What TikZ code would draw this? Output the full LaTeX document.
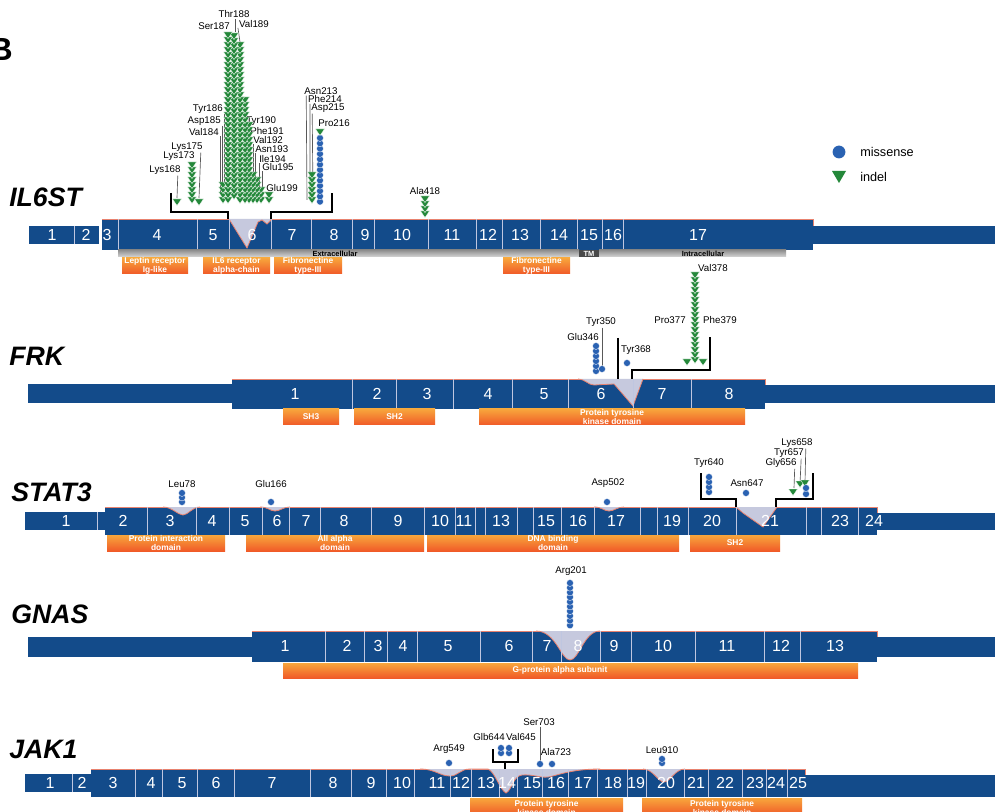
\documentclass[tikz,border=0pt]{standalone}
\usepackage{fontspec}
\setmainfont{Liberation Sans}
\usetikzlibrary{calc}
\definecolor{barblue}{HTML}{134B8A}
\definecolor{seplav}{HTML}{BFC6E0}
\definecolor{diplav}{HTML}{C6C9DE}
\definecolor{salmon}{HTML}{E8826F}
\definecolor{orTop}{HTML}{F8A63C}
\definecolor{orBot}{HTML}{F05A28}
\definecolor{mgreen}{HTML}{24883A}
\definecolor{mblue}{HTML}{2A62B2}
\definecolor{greyA}{HTML}{8E8E8E}
\definecolor{greyB}{HTML}{D6D6D6}
\definecolor{tmgrey}{HTML}{4A4A4A}
\tikzset{
 exnum/.style={text=white, font=\fontsize{12}{12}\selectfont, inner sep=0pt},
 mut/.style={font=\fontsize{7.3}{8}\selectfont, inner sep=0pt, text=black},
 gene/.style={font=\bfseries\itshape\fontsize{20}{20}\selectfont, inner sep=0pt, anchor=west},
 domtxt/.style={text=white, font=\bfseries\fontsize{6.3}{6.3}\selectfont, align=center, inner sep=0pt},
 exsep/.style={draw=seplav, line width=0.7pt},
 mline/.style={draw=black!65, line width=0.5pt},
 brk/.style={draw=black, line width=1.1pt},
 topline/.style={draw=salmon, line width=0.6pt},
 dipfill/.style={fill=diplav},
 dipline/.style={draw=salmon, line width=0.6pt},
}
\newcommand\mtri[2]{\filldraw[fill=mgreen, draw=white, line width=0.25pt] ({#1-4.5},{#2-3}) -- ({#1+4.5},{#2-3}) -- (#1,{#2+3.6}) -- cycle;}
\newcommand\mtricol[4]{\foreach \k in {#4,...,1}{\mtri{#1}{#2+(\k-1)*#3}}}
\newcommand\mdot[2]{\filldraw[fill=mblue, draw=white, line width=0.25pt] (#1,{#2}) circle (2.6pt);}
\newcommand\mdotcol[4]{\foreach \k in {#4,...,1}{\mdot{#1}{#2+(\k-1)*#3}}}
\newcommand\dombox[4]{\shade[top color=orTop, bottom color=orBot] (#1,#2) rectangle (#3,#4);}
\begin{document}
\begin{tikzpicture}[x=0.75pt,y=-0.75pt]
\useasboundingbox (0,0) rectangle (995,812);
\clip (0,0) rectangle (995,812);
\fill[white] (0,0) rectangle (995,812);

\node[font=\bfseries\fontsize{24}{24}\selectfont, anchor=east, inner sep=0pt] (lblB) at (13,49) {B};

% legend
\filldraw[fill=mblue, draw=none] (839,152) circle (4.8pt);
\node[anchor=west, font=\fontsize{9.5}{10}\selectfont, inner sep=0pt] (lgm) at (860,152) {missense};
\fill[mgreen] (832,171) -- (846,171) -- (839,183) -- cycle;
\node[anchor=west, font=\fontsize{9.5}{10}\selectfont, inner sep=0pt] (lgi) at (860,177) {indel};

%================ IL6ST
\node[gene] (gIL) at (9,197) {IL6ST};
\fill[barblue] (29,226) rectangle (99,244);
\fill[barblue] (102,219) rectangle (813,250);
\fill[barblue] (813,226) rectangle (995,244);
\draw[topline] (102,219) -- (813,219) -- (813,226);
\fill[dipfill] (229,219) -- (247,248) -- (258,222) -- (262,220) -- (267,224) -- (272,220) -- (271,219) -- cycle;
\draw[dipline] (229,219) -- (247,248) -- (258,222) -- (262,220) -- (267,224) -- (272,219);
\draw[exsep] (74,226) -- (74,244);
\foreach \x in {118,197,229,271,311,352,374,428,476,502,540,577,602,623} \draw[exsep] (\x,219) -- (\x,250);
\foreach \x/\t in {52/1,86/2,107/3,157/4,213/5,252/6,292/7,334/8,365/9,402/10,452/11,488/12,520/13,559/14,589/15,613/16,698/17}
  \node[exnum] (il\t) at (\x,235) {\t};
\shade[top color=greyA, bottom color=greyB] (118,250) rectangle (579,257);
\fill[tmgrey] (579,250) rectangle (599,257);
\shade[top color=greyA, bottom color=greyB] (599,250) rectangle (786,257);
\node[font=\bfseries\fontsize{5.6}{6}\selectfont, inner sep=0pt] (extra) at (335,254) {Extracellular};
\node[font=\bfseries\fontsize{5.6}{6}\selectfont, inner sep=0pt, text=white] (tm) at (589,254) {TM};
\node[font=\bfseries\fontsize{5.6}{6}\selectfont, inner sep=0pt] (intra) at (703,254) {Intracellular};
\dombox{122}{258}{188}{274}
\node[domtxt] (d1) at (155,266) {Leptin receptor\\Ig-like};
\dombox{203}{258}{270}{274}
\node[domtxt] (d2) at (236.5,266) {IL6 receptor\\alpha-chain};
\dombox{274}{258}{342}{274}
\node[domtxt] (d3) at (308,266) {Fibronectine\\type-III};
\dombox{503}{258}{570}{274}
\node[domtxt] (d4) at (536.5,266) {Fibronectine\\type-III};

% brackets
\draw[brk] (171,193) -- (171,212) -- (228,212) -- (228,219.5);
\draw[brk] (271,219.5) -- (271,212) -- (332,212) -- (332,193);

% labels
\node[mut] (m188) at (234,14) {Thr188};
\node[mut] (m187) at (214,26) {Ser187};
\node[mut] (m189) at (254,24) {Val189};
\node[mut, anchor=east] (m186) at (223,109) {Tyr186};
\node[mut, anchor=east] (m185) at (221,121) {Asp185};
\node[mut, anchor=east] (m184) at (219,132) {Val184};
\node[mut, anchor=west] (m190) at (246,121) {Tyr190};
\node[mut, anchor=west] (m191) at (250,131) {Phe191};
\node[mut, anchor=west] (m192) at (253,140) {Val192};
\node[mut, anchor=west] (m193) at (255,149) {Asn193};
\node[mut, anchor=west] (m194) at (259,159) {Ile194};
\node[mut, anchor=west] (m195) at (262,167) {Glu195};
\node[mut] (m199) at (282,188) {Glu199};
\node[mut] (m168) at (165,170) {Lys168};
\node[mut] (m173) at (179,156) {Lys173};
\node[mut] (m175) at (187,147) {Lys175};
\node[mut] (m213) at (321,91) {Asn213};
\node[mut] (m214) at (325,99) {Phe214};
\node[mut] (m215) at (328,108) {Asp215};
\node[mut] (m216) at (334,123) {Pro216};
\node[mut] (m418) at (425,191) {Ala418};

\draw[mline] (m188.south) ++(1,1) -- ++(0,13);
\draw[mline] (m189.south west) ++(-1,0) -- (240,42);
\draw[mline] (m186.south east) ++(1,0) -- (224,195);
\draw[mline] (m185.south east) ++(1,0) -- (222,195);
\draw[mline] (m184.south east) ++(1,0) -- (220,195);
\draw[mline] (m190.south west) -- (246,197);
\draw[mline] (m191.south west) -- (250,197);
\draw[mline] (m192.south west) -- (253,197);
\draw[mline] (m193.south west) -- (255,197);
\draw[mline] (m194.south west) -- (259,197);
\draw[mline] (m195.south west) -- (262,197);
\draw[mline] (m168.south east) ++(-3,1) -- (177,198);
\draw[mline] (m175.south east) ++(-2,1) -- (199,198);
\draw[mline] (m213.south west) ++(2,1) -- (307,200);
\draw[mline] (m214.south west) ++(2,1) -- (310,200);
\draw[mline] (m215.south west) ++(1,1) -- (313,200);

% indel stacks
\mtri{177}{202}
\mtricol{192}{165}{5}{8}
\mtri{199}{202}
\mtricol{223}{185}{5}{4}
\mtricol{261}{190}{5}{3}
\mtricol{257}{180}{5}{5}
\mtricol{253}{175}{5}{6}
\mtricol{249}{125}{5}{16}
\mtricol{245}{100}{5}{21}
\mtricol{240}{45}{5}{32}
\mtricol{234}{36}{5}{33}
\mtricol{228}{35}{5}{34}
\mtricol{269}{195}{5}{2}
\mtricol{312}{175}{5}{6}
\mdotcol{320}{138}{5.3}{13}
\mtri{320}{132}
\mtricol{425}{199}{5}{4}

%================ FRK
\node[gene] (gFRK) at (9,356) {FRK};
\fill[barblue] (28,384) rectangle (232,403);
\fill[barblue] (232,379) rectangle (765,409);
\fill[barblue] (765,385) rectangle (995,403);
\draw[topline] (232,379) -- (765,379) -- (765,385);
\fill[dipfill] (578,379) .. controls (585,379) and (588,385) .. (594,385) -- (614,384) -- (633,406) -- (643,379) -- cycle;
\draw[dipline] (578,379) .. controls (585,379) and (588,385) .. (594,385) -- (614,384) -- (633,406) -- (643,379);
\foreach \x in {352,396,453,512,568,633,691} \draw[exsep] (\x,379) -- (\x,409);
\foreach \x/\t in {295/1,377/2,427/3,488/4,544/5,601/6,662/7,729/8}
  \node[exnum] (fr\t) at (\x,394) {\t};
\dombox{283}{409}{339}{425}
\node[domtxt] (d5) at (311,417) {SH3};
\dombox{354}{409}{435}{425}
\node[domtxt] (d6) at (394.5,417) {SH2};
\dombox{479}{409}{745}{425}
\node[domtxt] (d7) at (612,417) {Protein tyrosine\\kinase domain};

\node[mut] (f346) at (583,337) {Glu346};
\node[mut] (f350) at (601,322) {Tyr350};
\node[mut] (f368) at (636,350) {Tyr368};
\node[mut] (f378) at (713,268) {Val378};
\node[mut] (f377) at (670,320) {Pro377};
\node[mut] (f379) at (720,320) {Phe379};
\draw[mline] (f350.south) ++(1,1) -- (602,368);
\draw[brk] (618,338) -- (618,379);
\draw[brk] (632,379) -- (632,370) -- (710,370) -- (710,337);
\mdotcol{596}{346}{5}{6}
\mdot{602}{369}
\mdot{627}{363}
\mtri{687}{362}
\mtri{703}{362}
\mtricol{695}{275}{5}{18}

%================ STAT3
\node[gene] (gST) at (11,492) {STAT3};
\fill[barblue] (25,512) rectangle (105,530);
\fill[barblue] (105,507) rectangle (877,535);
\fill[barblue] (877,513) rectangle (995,530);
\draw[topline] (105,507) -- (877,507) -- (877,513);
\fill[dipfill] (163,507) .. controls (172,507) and (178,515) .. (183,515) .. controls (188,515) and (192,507) .. (200,507) -- cycle;
\draw[dipline] (163,507) .. controls (172,507) and (178,515) .. (183,515) .. controls (188,515) and (192,507) .. (200,507);
\fill[dipfill] (260,507) .. controls (268,507) and (270,511) .. (275,511) .. controls (280,511) and (283,507) .. (290,507) -- cycle;
\draw[dipline] (260,507) .. controls (268,507) and (270,511) .. (275,511) .. controls (280,511) and (283,507) .. (290,507);
\fill[dipfill] (594,507) .. controls (602,507) and (604,511) .. (609,511) .. controls (614,511) and (617,507) .. (624,507) -- cycle;
\draw[dipline] (594,507) .. controls (602,507) and (604,511) .. (609,511) .. controls (614,511) and (617,507) .. (624,507);
\fill[dipfill] (736,507) -- (743,513) -- (763,527) -- (777,507) -- cycle;
\draw[dipline] (736,507) -- (743,513) -- (763,527) -- (777,507);
\draw[exsep] (97,512) -- (97,530);
\foreach \x in {147,196,229,262,289,320,371,424,455,475,485,517,533,561,594,640,657,688,736,806,821,858} \draw[exsep] (\x,507) -- (\x,535);
\foreach \x/\t in {66/1,123/2,170/3,212/4,245/5,277/6,306/7,344/8,398/9,440/10,464/11,501/13,546/15,578/16,616/17,672/19,712/20,770/21,840/23,874/24}
  \node[exnum] (st\t) at (\x,521) {\t};
\dombox{107}{535}{225}{551}
\node[domtxt] (d8) at (166,543) {Protein interaction\\domain};
\dombox{246}{535}{424}{551}
\node[domtxt] (d9) at (335,543) {All alpha\\domain};
\dombox{427}{535}{679}{551}
\node[domtxt] (d10) at (553,543) {DNA binding\\domain};
\dombox{690}{535}{780}{551}
\node[domtxt] (d11) at (735,543) {SH2};

\node[mut] (s78) at (182,484) {Leu78};
\node[mut] (s166) at (271,484) {Glu166};
\node[mut] (s502) at (608,483) {Asp502};
\node[mut] (s640) at (709,463) {Tyr640};
\node[mut] (s647) at (747,483) {Asn647};
\node[mut] (s656) at (781,463) {Gly656};
\node[mut] (s657) at (789,453) {Tyr657};
\node[mut] (s658) at (797,443) {Lys658};
\mdotcol{182}{493}{4.5}{3}
\mdot{271}{502}
\mdot{607}{502}
\mdotcol{709}{477}{5}{4}
\mdot{746}{493}
\draw[brk] (701,473) -- (701,499) -- (736,499) -- (736,507);
\draw[brk] (776,507) -- (776,499) -- (813,499) -- (813,473);
\draw[mline] (s656.south east) ++(-2,1) -- (794,488);
\draw[mline] (s657.south east) ++(-3,1) -- (800,484);
\draw[mline] (s658.south east) ++(-7,1) -- (805,482);
\mtri{793}{492}
\mtri{800}{484}
\mtri{805}{483}
\mdot{806}{494}
\mdot{806}{488}

%================ GNAS
\node[gene] (gGN) at (11,614) {GNAS};
\fill[barblue] (28,637) rectangle (252,657);
\fill[barblue] (252,631) rectangle (877,662);
\fill[barblue] (877,637) rectangle (995,657);
\draw[topline] (252,631) -- (877,631) -- (877,637);
\fill[dipfill] (536,631) .. controls (556,631) and (561,660) .. (570,660) .. controls (579,660) and (584,631) .. (600,631) -- cycle;
\draw[dipline] (536,631) .. controls (556,631) and (561,660) .. (570,660) .. controls (579,660) and (584,631) .. (600,631);
\foreach \x in {325,364,387,417,480,532,561,600,631,695,764,800} \draw[exsep] (\x,631) -- (\x,662);
\foreach \x/\t in {285/1,347/2,378/3,403/4,448/5,509/6,547/7,578/8,614/9,663/10,727/11,781/12,835/13}
  \node[exnum] (gn\t) at (\x,646) {\t};
\dombox{283}{663}{858}{678}
\node[domtxt] (d12) at (560,670.5) {G-protein alpha subunit};
\node[mut] (g201) at (571,571) {Arg201};
\mdotcol{570}{583}{4.7}{10}

%================ JAK1
\node[gene] (gJK) at (9,749) {JAK1};
\fill[barblue] (25,774) rectangle (91,792);
\fill[barblue] (91,769) rectangle (805,797);
\fill[barblue] (805,775) rectangle (995,797);
\draw[topline] (91,769) -- (805,769) -- (805,775);
\fill[dipfill] (420,769) .. controls (435,769) and (440,776) .. (450,776) .. controls (458,776) and (460,769) .. (470,769) -- (488,769) .. controls (495,772) and (500,790) .. (506,793) .. controls (512,790) and (513,776) .. (522,775) .. controls (532,774) and (540,778) .. (548,777) .. controls (556,776) and (570,769) .. (600,769) -- cycle;
\draw[dipline] (420,769) .. controls (435,769) and (440,776) .. (450,776) .. controls (458,776) and (460,769) .. (470,769) -- (488,769) .. controls (495,772) and (500,790) .. (506,793) .. controls (512,790) and (513,776) .. (522,775) .. controls (532,774) and (540,778) .. (548,777) .. controls (556,776) and (570,769) .. (600,769);
\fill[dipfill] (643,769) .. controls (653,769) and (658,782) .. (664,782) .. controls (670,782) and (675,769) .. (685,769) -- cycle;
\draw[dipline] (643,769) .. controls (653,769) and (658,782) .. (664,782) .. controls (670,782) and (675,769) .. (685,769);
\draw[exsep] (72,774) -- (72,792);
\foreach \x in {135,162,197,234,310,351,386,414,450,471,499,517,542,568,597,627,646,684,708,742,766,787} \draw[exsep] (\x,769) -- (\x,797);
\foreach \x/\t in {50/1,82/2,113/3,151/4,182/5,216/6,272/7,333/8,371/9,402/10,437/11,461/12,486/13,507/14,532/15,556/16,583/17,613/18,636/19,666/20,696/21,725/22,755/23,776/24,798/25}
  \node[exnum] (jk\t) at (\x,783) {\t};
\dombox{470}{798}{623}{815}
\node[domtxt] (d13) at (546.5,808) {Protein tyrosine\\kinase domain};
\dombox{642}{798}{802}{815}
\node[domtxt] (d14) at (722,808) {Protein tyrosine\\kinase domain};

\node[mut] (j549) at (449,749) {Arg549};
\node[mut] (j644) at (489,737) {Glb644};
\node[mut] (j645) at (521,737) {Val645};
\node[mut] (j703) at (539,722) {Ser703};
\node[mut] (j723) at (556,752) {Ala723};
\node[mut] (j910) at (662,750) {Leu910};
\mdot{449}{763}
\mdot{501}{753}
\mdot{509}{753}
\mdot{501}{748}
\mdot{509}{748}
\draw[brk] (493,749) -- (493,762) -- (518,762) -- (518,749);
\draw[brk] (505,762) -- (505,769);
\draw[mline] (j703.south) ++(1,1) -- (540,761);
\mdot{540}{764}
\mdot{552}{764}
\mdot{662}{763}
\mdot{662}{759}
\end{tikzpicture}
\end{document}
